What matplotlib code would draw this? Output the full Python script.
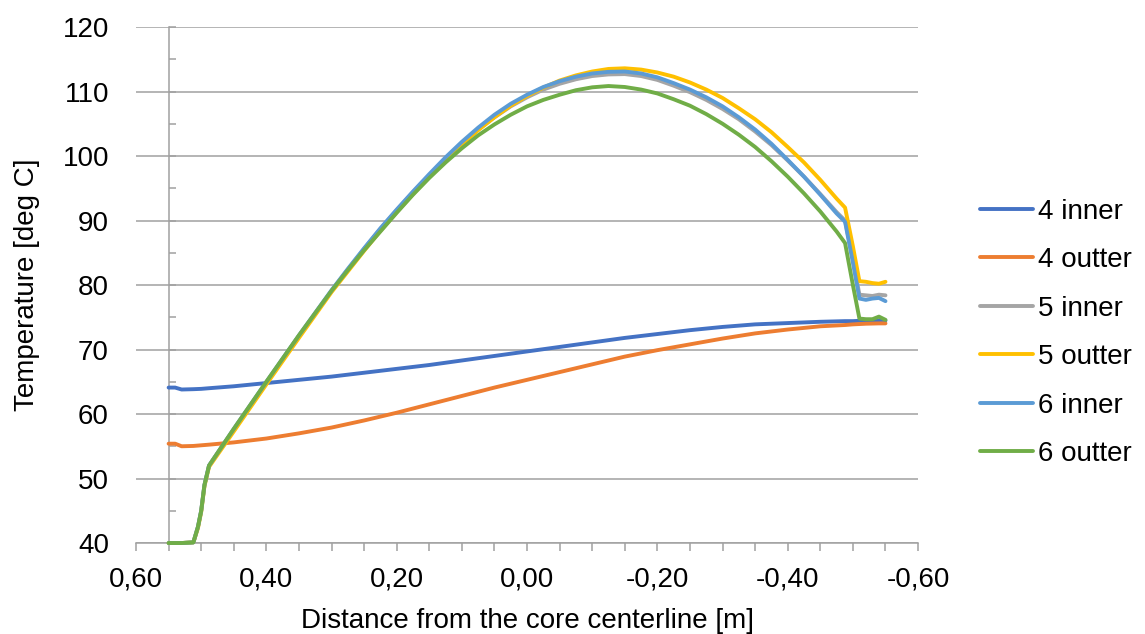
import numpy as np
import matplotlib
matplotlib.use("Agg")
import matplotlib.pyplot as plt
from matplotlib.ticker import MultipleLocator, FuncFormatter

plt.rcParams['font.family'] = ['Liberation Sans', 'DejaVu Sans']

# Distance from the core centerline [m] -- set 4 (smooth, coarse reading)
x_4 = [0.55, 0.54, 0.53, 0.512, 0.50, 0.488, 0.45, 0.40,
       0.35, 0.30, 0.25, 0.20, 0.15, 0.10, 0.05, 0.00, -0.05, -0.10,
       -0.15, -0.20, -0.25, -0.30, -0.35, -0.40, -0.45, -0.488, -0.50,
       -0.52, -0.54, -0.55]

inner_4 = [64.1, 64.1, 63.8, 63.85, 63.9, 64.0, 64.3, 64.8,
           65.3, 65.8, 66.4, 67.0, 67.6, 68.3, 69.0, 69.7, 70.4, 71.1,
           71.8, 72.4, 73.0, 73.5, 73.9, 74.1, 74.3, 74.4, 74.4,
           74.5, 74.5, 74.5]
outter_4 = [55.4, 55.4, 55.0, 55.05, 55.15, 55.25, 55.6, 56.2,
            57.0, 57.9, 59.0, 60.2, 61.5, 62.8, 64.1, 65.3, 66.5, 67.7,
            68.9, 69.9, 70.8, 71.7, 72.5, 73.1, 73.6, 73.8, 73.9,
            74.0, 74.05, 74.05]

# Distance from the core centerline [m] -- sets 5 and 6 (finer reading near the peak)
x_56 = [0.55, 0.54, 0.53, 0.512, 0.505, 0.50, 0.495, 0.488, 0.45, 0.40,
        0.35, 0.30, 0.275, 0.25, 0.225, 0.20, 0.175, 0.15, 0.125, 0.10,
        0.075, 0.05, 0.025, 0.00, -0.025, -0.05, -0.075, -0.10, -0.125, -0.15,
        -0.175, -0.20, -0.225, -0.25, -0.275, -0.30, -0.325, -0.35, -0.375, -0.40,
        -0.425, -0.45, -0.475, -0.488, -0.50, -0.51, -0.52, -0.53, -0.54, -0.55]

inner_5 = [40.0, 40.0, 40.0, 40.1, 42.5, 45.0, 49.0, 52.0, 57.6, 64.9,
           72.1, 79.1, 82.4, 85.6, 88.7, 91.6, 94.4, 97.0, 99.6, 101.9,
           104.1, 106.0, 107.7, 109.1, 110.3, 111.2, 111.9, 112.4, 112.65, 112.7,
           112.4, 111.8, 110.9, 109.9, 108.7, 107.3, 105.7, 103.8, 101.7, 99.3,
           96.8, 94.1, 91.3, 90.0, 84.0, 78.5, 78.4, 78.3, 78.5, 78.4]
outter_5 = [40.0, 40.0, 40.0, 40.1, 42.3, 44.8, 48.8, 51.8, 57.3, 64.6,
            71.8, 78.9, 82.1, 85.3, 88.4, 91.3, 94.1, 96.8, 99.4, 101.8,
            104.0, 106.0, 107.8, 109.3, 110.6, 111.7, 112.5, 113.1, 113.5, 113.6,
            113.4, 112.95, 112.3, 111.4, 110.3, 109.0, 107.4, 105.7, 103.7, 101.4,
            99.0, 96.3, 93.4, 92.0, 86.0, 80.6, 80.5, 80.3, 80.2, 80.5]
inner_6 = [40.0, 40.0, 40.0, 40.1, 42.5, 45.0, 49.0, 52.0, 57.7, 65.0,
           72.2, 79.2, 82.5, 85.7, 88.8, 91.7, 94.5, 97.2, 99.8, 102.2,
           104.4, 106.4, 108.1, 109.5, 110.7, 111.6, 112.3, 112.8, 113.05, 113.1,
           112.8, 112.2, 111.3, 110.3, 109.1, 107.7, 106.0, 104.1, 101.9, 99.4,
           96.8, 94.0, 91.1, 89.8, 83.5, 77.9, 77.7, 77.9, 78.0, 77.5]
outter_6 = [40.0, 40.0, 40.0, 40.1, 42.5, 45.0, 49.0, 52.0, 57.7, 65.0,
            72.2, 79.1, 82.3, 85.4, 88.3, 91.2, 94.0, 96.6, 99.0, 101.2,
            103.2, 104.9, 106.4, 107.7, 108.7, 109.5, 110.2, 110.65, 110.85, 110.7,
            110.3, 109.7, 108.8, 107.8, 106.5, 105.0, 103.3, 101.4, 99.2, 96.8,
            94.2, 91.4, 88.3, 86.5, 80.0, 74.8, 74.7, 74.7, 75.1, 74.6]

series = [("4 inner", x_4, inner_4, "#4472C4"),
          ("4 outter", x_4, outter_4, "#ED7D31"),
          ("5 inner", x_56, inner_5, "#A5A5A5"),
          ("5 outter", x_56, outter_5, "#FFC000"),
          ("6 inner", x_56, inner_6, "#5B9BD5"),
          ("6 outter", x_56, outter_6, "#70AD47")]

fig = plt.figure(figsize=(11.45, 6.34), dpi=100)
ax = fig.add_axes([0.1188, 0.1435, 0.6830, 0.8139])

for label, xs, vals, color in series:
    ax.plot(xs, vals, color=color, lw=2.8, label=label, clip_on=False,
            solid_capstyle='round', solid_joinstyle='round', zorder=3)

ax.set_xlim(0.60, -0.60)
ax.set_ylim(40, 120)

axis_grey = "#A0A0A0"
ax.xaxis.set_major_locator(MultipleLocator(0.2))
ax.xaxis.set_minor_locator(MultipleLocator(0.05))
ax.yaxis.set_major_locator(MultipleLocator(10))
ax.yaxis.set_minor_locator(MultipleLocator(5))


def comma_fmt(v, pos):
    if abs(v) < 1e-9:
        v = 0.0
    return f"{v:.2f}".replace(".", ",")


ax.xaxis.set_major_formatter(FuncFormatter(comma_fmt))

ax.grid(axis='y', which='major', color=axis_grey, lw=1.1, zorder=0)
ax.set_axisbelow(True)

for side in ['top', 'right']:
    ax.spines[side].set_visible(False)
ax.spines['left'].set_position(('data', 0.55))
for side in ['left', 'bottom']:
    ax.spines[side].set_color(axis_grey)
    ax.spines[side].set_linewidth(1.1)

ax.tick_params(axis='x', which='both', direction='out', length=6,
               width=1.1, color=axis_grey, labelsize=20, pad=11)
ax.tick_params(axis='y', which='both', direction='in', length=5,
               width=1.1, color=axis_grey, labelsize=20, pad=43)

ax.set_xlabel("Distance from the core centerline [m]", fontsize=20)
ax.set_ylabel("Temperature [deg C]", fontsize=20)
ax.xaxis.set_label_coords(0.5, -0.126)
ax.yaxis.set_label_coords(-0.123, 0.5)

fig.legend(loc='center left', bbox_to_anchor=(0.856, 0.475), frameon=False,
           fontsize=20, handlelength=1.9, handletextpad=0.18,
           labelspacing=0.81, borderpad=0, borderaxespad=0)

fig.savefig("out.png", dpi=100)
